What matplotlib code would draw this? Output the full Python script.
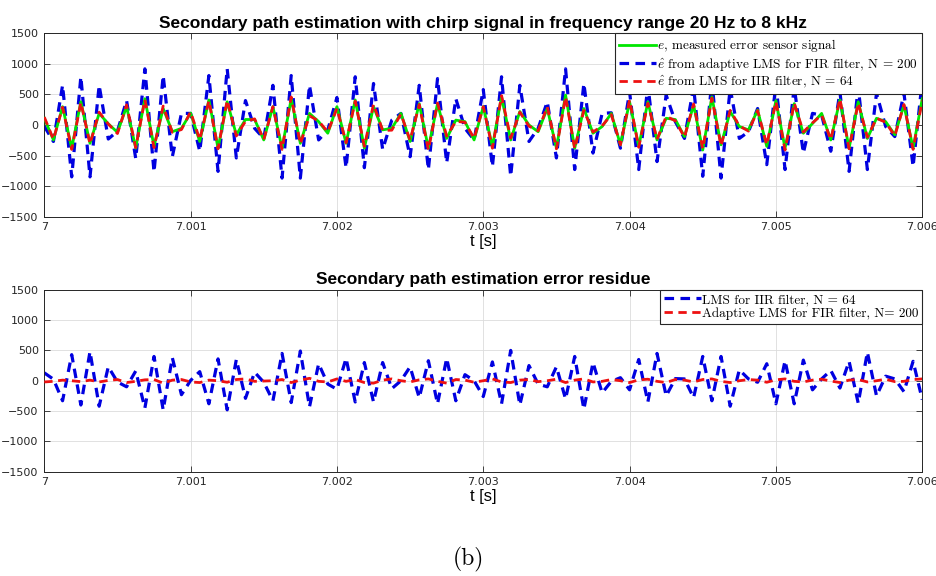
import matplotlib
matplotlib.use("Agg")
import matplotlib.pyplot as plt
import numpy as np

plt.rcParams['mathtext.fontset'] = 'cm'

fs = 16000.0
t0 = 7.0

# measured error sensor signal e
e_meas = [110, -245, 300, -380, 380, -300, 190, 20, -120, 300, -380, 430, -350, 270, -110, -55,
          195, -270, 410, -380, 380, -160, 90, 90, -245, 300, -380, 430, -300, 190, 55, -135,
          300, -300, 410, -380, 300, -80, -55, 190, -270, 350, -380, 350, -220, 80, 55, -245,
          300, -350, 460, -245, 220, 0, -110, 270, -380, 490, -380, 270, -135, -25, 190, -325,
          380, -350, 380, -245, 110, 90, -190, 325, -410, 460, -325, 220, -25, -80, 245, -350,
          400, -380, 350, -135, 25, 190, -245, 410, -380, 380, -220, 110, 55, -160, 325, -380,
          430]

# e-hat, adaptive LMS FIR, N = 200
e_fir = [-20, -270, 650, -850, 790, -850, 650, -230, -100, 400, -550, 920, -770, 810, -520, 190,
         190, -430, 810, -760, 920, -540, 400, -55, -220, 650, -870, 810, -870, 650, -245, -80,
         450, -700, 790, -700, 680, -400, 80, 190, -520, 650, -730, 760, -620, 430, -55, -245,
         580, -680, 790, -840, 650, -270, -55, 380, -540, 920, -730, 680, -460, 190, 200, -380,
         540, -730, 650, -600, 490, 55, -220, 620, -840, 730, -870, 600, -220, -110, 270, -650,
         670, -730, 620, -460, 190, 160, -430, 540, -760, 620, -730, 520, -25, -190, 520, -680,
         730]

# e-hat, LMS IIR, N = 64
e_iir = [130, -235, 290, -400, 370, -310, 210, 15, -140, 330, -370, 415, -370, 310, -120, -75,
         215, -240, 400, -390, 405, -180, 60, 100, -240, 300, -400, 460, -310, 150, 65, -115,
         270, -290, 390, -350, 340, -90, -85, 180, -250, 335, -410, 360, -180, 60, 45, -220,
         300, -380, 480, -215, 210, -20, -95, 300, -390, 460, -390, 240, -115, -15, 170, -325,
         410, -365, 355, -235, 140, 70, -200, 345, -390, 440, -345, 240, -15, -100, 235, -325,
         385, -410, 360, -115, 35, 165, -240, 430, -390, 360, -200, 110, 45, -180, 335, -400,
         400]

# residues
res_iir = [130, 25, -330, 430, -400, 480, -420, 230, -20, -100, 160, -450, 400, -480, 380, -230,
           5, 150, -380, 360, -480, 350, -290, 140, -25, -330, 450, -360, 490, -430, 280, -55,
           -140, 370, -350, 300, -350, 300, -130, 0, 230, -280, 330, -380, 370, -330, 100, 0,
           -260, 310, -380, 500, -400, 250, -55, -100, 230, -300, 400, -470, 300, -200, -10, 50,
           -150, 350, -350, 450, -250, 35, 30, -280, 400, -330, 400, -420, 180, 30, -25, 280,
           -380, 330, -380, 340, -150, 30, 170, -120, 320, -370, 470, -250, 75, 30, -180, 320,
           -310]

res_fir = [-20, -10, 10, 0, -15, 10, -20, 5, 20, -30, -10, 15, 20, -40, 10, 20,
           -20, -30, 10, 0, -25, 20, 30, -10, -5, 0, 20, -30, 10, 40, -10, -20,
           30, -10, 20, -30, -40, 10, 30, 0, -20, 15, 30, -10, -40, 20, 10, -25,
           0, 30, -20, -30, 10, 20, -15, 0, 25, -30, 10, 30, -20, -10, 20, 0,
           -30, 15, 25, -10, -30, 20, 10, -20, 20, 30, -10, -30, 0, 20, 10, -25,
           15, 30, -10, -20, 10, 25, -5, -30, 10, 20, -20, 0, 25, -15, -10, 20,
           30]

xticks = [7, 7.001, 7.002, 7.003, 7.004, 7.005, 7.006]
xticklabels = ['7', '7.001', '7.002', '7.003', '7.004', '7.005', '7.006']
yticks = [-1500, -1000, -500, 0, 500, 1000, 1500]


def tvec(v):
    return t0 + np.arange(len(v)) / fs


def style(ax, title):
    ax.set_xlim(7, 7.006)
    ax.set_ylim(-1500, 1500)
    ax.set_xticks(xticks)
    ax.set_xticklabels(xticklabels)
    ax.set_yticks(yticks)
    ax.grid(True, color='#dcdcdc', linewidth=0.6)
    ax.set_axisbelow(True)
    ax.tick_params(direction='in', top=True, right=True, labelsize=8,
                   colors='#262626', length=4, width=0.6, pad=4)
    for s in ax.spines.values():
        s.set_color('#262626')
        s.set_linewidth(0.7)
    ax.set_title(title, fontsize=12.5, fontweight='bold', family='Liberation Sans', pad=4)
    ax.set_xlabel('t [s]', fontsize=12, family='Liberation Sans', labelpad=1)


fig = plt.figure(figsize=(9.36, 5.76), dpi=100)
ax1 = fig.add_axes([0.0473, 0.624, 0.938, 0.318])
ax2 = fig.add_axes([0.0473, 0.181, 0.938, 0.316])

leg_prop = {'family': 'cmr10', 'size': 9.5}
leg_kw = dict(loc='upper right', prop=leg_prop, fancybox=False, framealpha=1,
              edgecolor='#262626', borderaxespad=0, handlelength=2.8,
              handletextpad=0.1, labelspacing=0.1, borderpad=0.3)

lg, = ax1.plot(tvec(e_meas), e_meas, color='#00e600', lw=2.0, zorder=3,
               label=r'$e$, measured error sensor signal')
lb, = ax1.plot(tvec(e_fir), e_fir, color='#0000e0', lw=2.3, ls=(0, (3, 2)), zorder=2,
               label=r'$\hat{e}$ from adaptive LMS for FIR filter, N = 200')
lr, = ax1.plot(tvec(e_iir), e_iir, color='#ee1111', lw=2.0, ls=(0, (3, 2)), zorder=4,
               label=r'$\hat{e}$ from LMS for IIR filter, N = 64')
style(ax1, 'Secondary path estimation with chirp signal in frequency range 20 Hz to 8 kHz')
l1 = ax1.legend(handles=[lg, lb, lr], **leg_kw)
l1.get_frame().set_linewidth(0.8)

ax2.plot(tvec(res_iir), res_iir, color='#0000e0', lw=2.3, ls=(0, (3, 2)), zorder=2,
         label='LMS for IIR filter, N = 64')
ax2.plot(tvec(res_fir), res_fir, color='#ee1111', lw=2.0, ls=(0, (3, 2)), zorder=3,
         label='Adaptive LMS for FIR filter, N= 200')
style(ax2, 'Secondary path estimation error residue')
l2 = ax2.legend(**leg_kw)
l2.get_frame().set_linewidth(0.8)

fig.text(0.5, 0.028, '(b)', ha='center', va='center', family='cmr10', fontsize=17)

fig.savefig('out.png', dpi=100)
